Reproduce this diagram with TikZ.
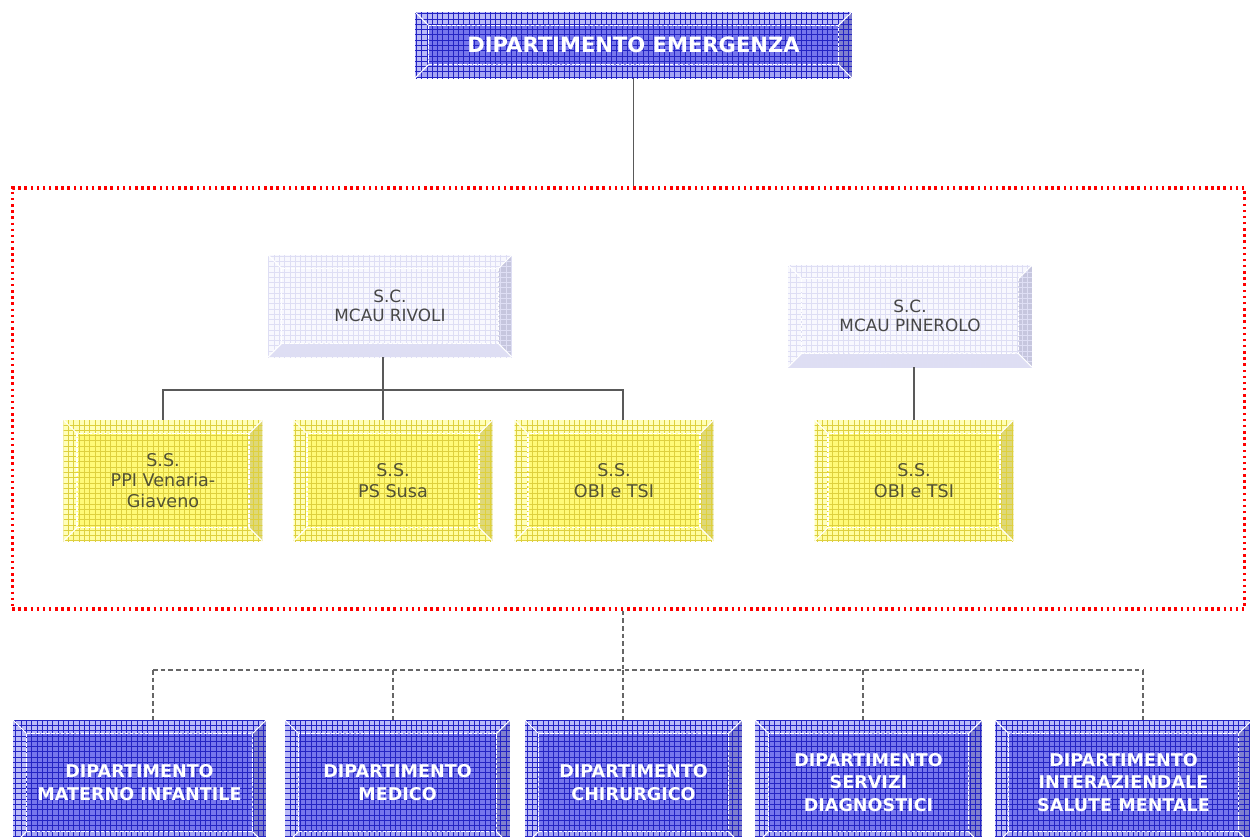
\documentclass[tikz,border=0pt]{standalone}
\usepackage{fontspec}
\setmainfont{DejaVu Sans}
\usepackage{xcolor}
\usepackage{tikz}
\usetikzlibrary{patterns,calc}

\definecolor{deptface}{RGB}{118,118,236}
\definecolor{deptlight}{RGB}{186,186,248}
\definecolor{deptdark}{RGB}{128,128,206}
\definecolor{deptgrid}{RGB}{36,36,196}
\definecolor{ssface}{RGB}{255,250,120}
\definecolor{sslight}{RGB}{255,255,184}
\definecolor{ssdark}{RGB}{222,216,120}
\definecolor{ssgrid}{RGB}{222,208,62}
\definecolor{scface}{RGB}{248,248,254}
\definecolor{scdark}{RGB}{198,198,222}
\definecolor{scmid}{RGB}{222,222,243}
\definecolor{scgrid}{RGB}{222,222,244}
\definecolor{sstext}{RGB}{82,82,52}

\def\bw{0.27cm}

\tikzset{
  bevelled/.style n args={5}{fill=#1, path picture={
      \coordinate (bb-nw) at (path picture bounding box.north west);
      \coordinate (bb-ne) at (path picture bounding box.north east);
      \coordinate (bb-sw) at (path picture bounding box.south west);
      \coordinate (bb-se) at (path picture bounding box.south east);
      \fill[#2] (bb-nw) -- (bb-ne) -- ([shift={(-\bw,-\bw)}]bb-ne) -- ([shift={(\bw,-\bw)}]bb-nw) -- cycle;
      \fill[#2] (bb-nw) -- (bb-sw) -- ([shift={(\bw,\bw)}]bb-sw) -- ([shift={(\bw,-\bw)}]bb-nw) -- cycle;
      \fill[#3] (bb-ne) -- (bb-se) -- ([shift={(-\bw,\bw)}]bb-se) -- ([shift={(-\bw,-\bw)}]bb-ne) -- cycle;
      \fill[#4] (bb-sw) -- (bb-se) -- ([shift={(-\bw,\bw)}]bb-se) -- ([shift={(\bw,\bw)}]bb-sw) -- cycle;
      \fill[pattern=grid, pattern color=#5] (bb-nw) rectangle (bb-se);
      \draw[white, line width=0.8pt, dash pattern=on 2pt off 0.8pt] ([shift={(\bw,-\bw)}]bb-nw) rectangle ([shift={(-\bw,\bw)}]bb-se);
      \draw[white, line width=0.6pt] (bb-nw) -- ([shift={(\bw,-\bw)}]bb-nw) (bb-sw) -- ([shift={(\bw,\bw)}]bb-sw)
        (bb-ne) -- ([shift={(-\bw,-\bw)}]bb-ne) (bb-se) -- ([shift={(-\bw,\bw)}]bb-se);
    }},
  deptbox/.style={bevelled={deptface}{deptlight}{deptdark}{deptlight!70!deptface}{deptgrid},
    text=white, font=\fontsize{10}{12.8}\selectfont\bfseries, align=center, inner sep=0pt},
  ssbox/.style={bevelled={ssface}{sslight}{ssdark}{sslight!60!ssface}{ssgrid},
    text=sstext, font=\fontsize{10}{11.5}\selectfont, align=center, inner sep=0pt,
    minimum width=3.98cm, minimum height=2.42cm},
  scbox/.style={bevelled={scface}{scface}{scdark}{scmid}{scgrid},
    text=black!72, font=\fontsize{9.6}{10.6}\selectfont, align=center, inner sep=0pt,
    minimum width=4.88cm, minimum height=2.04cm},
  conn/.style={draw=black!65, line width=0.8pt},
  linkdash/.style={draw=black!60, line width=0.7pt, dash pattern=on 2.6pt off 1.8pt},
  redframe/.style={draw=red, line width=1.8pt, dash pattern=on 1.4pt off 2.1pt}
}

\begin{document}
\begin{tikzpicture}[x=0.02cm, y=-0.02cm]
  \clip (0,0) rectangle (1250,836);
  \fill[white] (0,0) rectangle (1250,836);

  % top department
  \node[deptbox, font=\fontsize{12}{14}\selectfont\bfseries, minimum width=8.74cm, minimum height=1.32cm] (emerg) at (633.5,45) {DIPARTIMENTO EMERGENZA};

  % dotted area
  \node[redframe, minimum width=24.66cm, minimum height=8.42cm] (area) at (628.5,398.5) {};

  % S.C.
  \node[scbox] (rivoli) at (390,306) {S.C.\\MCAU RIVOLI};
  \node[scbox] (pinerolo) at (910,316) {S.C.\\MCAU PINEROLO};

  % S.S.
  \node[ssbox] (venaria) at (163,480.5) {S.S.\\PPI Venaria-\\Giaveno};
  \node[ssbox] (susa) at (393,480.5) {S.S.\\PS Susa};
  \node[ssbox] (obi) at (614,480.5) {S.S.\\OBI e TSI};
  \node[ssbox] (obip) at (914,480.5) {S.S.\\OBI e TSI};

  % other departments
  \node[deptbox, minimum width=5.06cm, minimum height=2.5cm] (materno) at (139.5,782.5) {DIPARTIMENTO\\MATERNO INFANTILE};
  \node[deptbox, minimum width=4.5cm, minimum height=2.5cm] (medico) at (397.5,782.5) {DIPARTIMENTO\\MEDICO};
  \node[deptbox, minimum width=4.34cm, minimum height=2.5cm] (chir) at (633.5,782.5) {DIPARTIMENTO\\CHIRURGICO};
  \node[deptbox, minimum width=4.54cm, minimum height=2.5cm] (servizi) at (868.5,782.5) {DIPARTIMENTO\\SERVIZI\\DIAGNOSTICI};
  \node[deptbox, minimum width=5.14cm, minimum height=2.5cm] (mentale) at (1123.5,782.5) {DIPARTIMENTO\\INTERAZIENDALE\\SALUTE MENTALE};

  % links
  \draw[conn] (emerg) -- (emerg |- area.north);
  \coordinate (rbar) at (383,390);
  \draw[conn] (rbar |- rivoli.south) -- (rbar |- susa.north);
  \draw[conn] (venaria.north) |- (rbar) -| ([xshift=0.18cm]obi.north);
  \draw[conn] (obip.north |- pinerolo.south) -- (obip.north);

  \coordinate (dbar) at (623,670);
  \draw[linkdash] (dbar |- area.south) -- (dbar);
  \draw[linkdash] (153,670) -- (1143,670);
  \foreach \n/\x in {materno/153, medico/393, chir/623, servizi/863, mentale/1143}
    \draw[linkdash] (\x,670) -- (\x,670 |- \n.north);
\end{tikzpicture}
\end{document}
